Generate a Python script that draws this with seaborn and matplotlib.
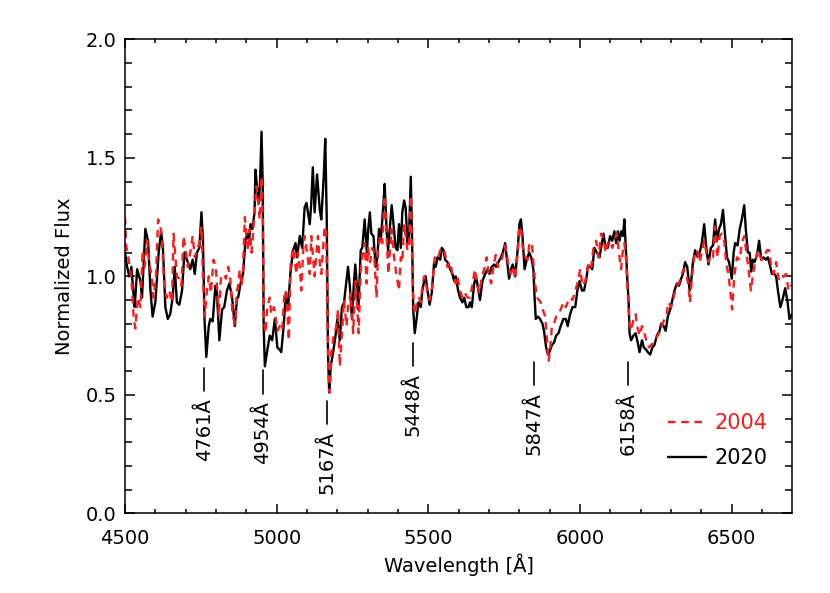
import numpy as np
import matplotlib
matplotlib.use("Agg")
import matplotlib.pyplot as plt
import seaborn as sns

# spectrum 2020 (black, solid)
wl_2020 = [4500, 4507, 4514, 4521, 4529, 4532, 4540, 4551, 4556, 4567, 4576, 4584, 4591, 4600,
           4611, 4619, 4625, 4633, 4641, 4649, 4657, 4664, 4671, 4679, 4688, 4696, 4704, 4715,
           4723, 4730, 4737, 4745, 4752, 4757, 4762, 4768, 4776, 4781, 4789, 4798, 4803, 4811,
           4820, 4827, 4836, 4844, 4853, 4862, 4869, 4873, 4881, 4889, 4897, 4903, 4909, 4914,
           4920, 4927, 4930, 4935, 4941, 4945, 4950, 4954, 4957, 4961, 4968, 4977, 4985, 4994,
           5002, 5010, 5015, 5023, 5030, 5037, 5045, 5054, 5062, 5067, 5076, 5084, 5092, 5098,
           5103, 5109, 5114, 5119, 5125, 5133, 5142, 5147, 5155, 5160, 5165, 5169, 5173, 5178,
           5186, 5194, 5200, 5208, 5215, 5222, 5230, 5235, 5241, 5248, 5254, 5259, 5264, 5269,
           5277, 5282, 5290, 5297, 5302, 5307, 5312, 5319, 5326, 5332, 5337, 5343, 5352, 5356,
           5362, 5367, 5374, 5379, 5385, 5392, 5398, 5403, 5409, 5414, 5420, 5425, 5431, 5436,
           5442, 5446, 5450, 5455, 5462, 5467, 5475, 5480, 5486, 5491, 5497, 5504, 5511, 5519,
           5524, 5530, 5539, 5544, 5550, 5555, 5563, 5572, 5579, 5585, 5590, 5598, 5604, 5612,
           5618, 5625, 5632, 5637, 5643, 5651, 5657, 5665, 5670, 5678, 5687, 5695, 5701, 5709,
           5717, 5723, 5731, 5739, 5745, 5753, 5758, 5766, 5772, 5778, 5786, 5794, 5800, 5805,
           5810, 5817, 5824, 5832, 5839, 5846, 5850, 5854, 5861, 5868, 5876, 5881, 5888, 5894,
           5899, 5907, 5914, 5921, 5929, 5936, 5945, 5953, 5959, 5967, 5975, 5984, 5991, 5998,
           6006, 6013, 6022, 6025, 6033, 6040, 6047, 6055, 6064, 6069, 6077, 6084, 6091, 6099,
           6106, 6113, 6119, 6124, 6130, 6135, 6141, 6146, 6152, 6156, 6160, 6163, 6168, 6176,
           6183, 6190, 6196, 6204, 6210, 6218, 6223, 6231, 6238, 6245, 6253, 6262, 6267, 6275,
           6282, 6289, 6297, 6304, 6311, 6319, 6326, 6333, 6339, 6346, 6353, 6361, 6366, 6372,
           6379, 6388, 6396, 6401, 6409, 6416, 6423, 6431, 6438, 6445, 6451, 6458, 6464, 6471,
           6476, 6484, 6491, 6500, 6506, 6511, 6519, 6526, 6533, 6541, 6546, 6553, 6559, 6564,
           6569, 6575, 6583, 6590, 6597, 6605, 6612, 6619, 6627, 6632, 6640, 6646, 6652, 6660,
           6667, 6676, 6684, 6690, 6698]
flux_2020 = [1.10, 1.04, 1.00, 1.04, 0.91, 0.87, 1.03, 0.98, 0.91, 1.20, 1.15, 0.94, 0.83, 0.89,
             1.10, 1.19, 1.12, 0.87, 0.82, 0.84, 0.91, 1.04, 0.89, 0.88, 0.94, 1.10, 1.07, 1.03,
             1.07, 1.01, 1.10, 1.12, 1.27, 1.15, 0.82, 0.66, 0.79, 0.82, 0.81, 0.96, 0.93, 0.73,
             0.86, 0.87, 0.94, 0.97, 0.91, 0.79, 0.91, 0.91, 0.97, 1.01, 1.15, 1.18, 1.15, 1.22,
             1.20, 1.27, 1.45, 1.38, 1.31, 1.39, 1.61, 1.38, 0.79, 0.62, 0.68, 0.75, 0.73, 0.82,
             0.70, 0.69, 0.68, 0.79, 0.93, 0.86, 1.01, 1.11, 1.14, 1.08, 1.17, 1.12, 1.29, 1.31,
             1.27, 1.22, 1.31, 1.46, 1.27, 1.43, 1.28, 1.24, 1.42, 1.58, 1.24, 0.68, 0.51, 0.62,
             0.68, 0.75, 0.82, 0.73, 0.87, 0.89, 0.98, 1.04, 0.96, 0.82, 0.96, 1.05, 0.96, 0.86,
             1.11, 1.12, 1.24, 1.10, 1.20, 1.27, 1.18, 1.17, 1.04, 1.08, 1.20, 1.15, 1.31, 1.39,
             1.20, 1.11, 1.22, 1.30, 1.22, 1.12, 1.11, 1.22, 1.12, 1.27, 1.32, 1.29, 1.14, 1.17,
             1.42, 1.17, 0.86, 0.76, 0.83, 0.89, 0.87, 0.94, 0.98, 1.00, 0.94, 0.88, 0.93, 1.06,
             1.04, 1.08, 1.07, 1.12, 1.11, 1.07, 1.06, 1.03, 1.01, 0.98, 1.00, 0.94, 0.91, 0.89,
             0.91, 0.87, 0.87, 0.89, 0.87, 0.97, 1.00, 0.94, 0.90, 0.98, 1.01, 1.03, 1.01, 1.04,
             1.05, 1.04, 1.06, 1.08, 1.10, 1.14, 1.08, 0.99, 1.03, 1.05, 1.00, 1.11, 1.22, 1.24,
             1.17, 1.03, 1.07, 1.10, 1.08, 1.03, 0.91, 0.82, 0.83, 0.82, 0.80, 0.77, 0.70, 0.67,
             0.68, 0.71, 0.72, 0.75, 0.76, 0.79, 0.82, 0.82, 0.79, 0.84, 0.87, 0.87, 0.94, 0.98,
             0.94, 0.94, 1.00, 1.04, 1.04, 1.03, 1.12, 1.10, 1.08, 1.12, 1.18, 1.12, 1.12, 1.17,
             1.15, 1.19, 1.14, 1.19, 1.15, 1.19, 1.17, 1.24, 1.08, 0.98, 0.89, 0.76, 0.73, 0.75,
             0.76, 0.72, 0.68, 0.73, 0.70, 0.69, 0.68, 0.67, 0.70, 0.71, 0.75, 0.77, 0.80, 0.79,
             0.77, 0.83, 0.86, 0.90, 0.94, 0.97, 0.96, 0.99, 1.01, 1.06, 1.04, 0.94, 0.98, 1.06,
             1.11, 1.08, 1.11, 1.14, 1.22, 1.12, 1.05, 1.12, 1.13, 1.24, 1.15, 1.20, 1.22, 1.28,
             1.20, 1.08, 1.06, 0.99, 1.10, 1.14, 1.13, 1.20, 1.24, 1.30, 1.20, 1.10, 1.10, 1.02,
             1.07, 1.06, 1.09, 1.15, 1.07, 1.08, 1.07, 1.08, 1.04, 1.01, 1.01, 1.00, 0.94, 0.87,
             0.90, 0.95, 0.89, 0.82, 0.84]

# spectrum 2004 (red, dashed)
wl_2004 = [4500, 4504, 4512, 4521, 4529, 4534, 4542, 4551, 4558, 4565, 4573, 4580, 4589, 4594,
           4602, 4609, 4616, 4622, 4630, 4638, 4646, 4655, 4660, 4666, 4671, 4679, 4686, 4693,
           4699, 4707, 4715, 4723, 4730, 4737, 4745, 4752, 4757, 4763, 4770, 4776, 4783, 4792,
           4800, 4809, 4816, 4825, 4833, 4840, 4847, 4855, 4864, 4869, 4873, 4878, 4884, 4889,
           4895, 4900, 4906, 4911, 4917, 4922, 4928, 4933, 4939, 4944, 4950, 4954, 4957, 4963,
           4969, 4977, 4982, 4991, 4997, 5002, 5010, 5018, 5026, 5032, 5040, 5046, 5054, 5059,
           5065, 5070, 5076, 5081, 5087, 5092, 5098, 5103, 5109, 5114, 5120, 5125, 5131, 5136,
           5142, 5147, 5153, 5158, 5163, 5167, 5172, 5175, 5180, 5188, 5197, 5202, 5208, 5215,
           5222, 5230, 5235, 5244, 5252, 5260, 5266, 5270, 5277, 5282, 5290, 5296, 5301, 5308,
           5315, 5321, 5329, 5334, 5341, 5348, 5356, 5362, 5368, 5374, 5379, 5385, 5392, 5398,
           5403, 5409, 5414, 5420, 5425, 5431, 5436, 5442, 5446, 5450, 5455, 5462, 5469, 5475,
           5480, 5486, 5491, 5497, 5504, 5513, 5521, 5530, 5539, 5546, 5554, 5563, 5572, 5579,
           5585, 5590, 5596, 5604, 5612, 5620, 5629, 5637, 5646, 5653, 5660, 5668, 5676, 5684,
           5692, 5700, 5707, 5714, 5722, 5729, 5736, 5744, 5751, 5758, 5764, 5771, 5778, 5786,
           5794, 5800, 5806, 5811, 5819, 5827, 5833, 5841, 5846, 5852, 5857, 5865, 5870, 5877,
           5885, 5890, 5896, 5901, 5907, 5914, 5921, 5929, 5936, 5945, 5953, 5959, 5967, 5975,
           5984, 5991, 6000, 6008, 6017, 6029, 6037, 6044, 6053, 6061, 6069, 6077, 6084, 6091,
           6099, 6106, 6113, 6121, 6128, 6135, 6141, 6146, 6152, 6156, 6160, 6163, 6168, 6176,
           6183, 6188, 6196, 6204, 6210, 6218, 6227, 6234, 6242, 6251, 6260, 6267, 6275, 6284,
           6291, 6300, 6308, 6317, 6326, 6333, 6341, 6350, 6357, 6362, 6369, 6377, 6385, 6394,
           6404, 6409, 6416, 6423, 6431, 6438, 6445, 6453, 6460, 6467, 6475, 6482, 6489, 6497,
           6501, 6508, 6517, 6526, 6533, 6541, 6548, 6555, 6563, 6570, 6577, 6585, 6591, 6599,
           6607, 6616, 6623, 6630, 6638, 6646, 6654, 6662, 6671, 6679, 6687, 6695, 6700]
flux_2004 = [1.25, 1.13, 1.07, 0.99, 0.82, 0.78, 0.91, 0.87, 1.11, 1.04, 1.15, 1.06, 0.99, 0.91,
             1.00, 1.24, 1.22, 1.15, 0.94, 0.91, 0.94, 0.89, 1.18, 1.08, 1.00, 0.99, 0.96, 1.17,
             1.12, 1.04, 1.10, 1.17, 1.08, 1.11, 1.14, 1.21, 0.99, 0.83, 0.94, 1.00, 0.93, 1.07,
             1.03, 0.83, 0.99, 1.01, 0.99, 1.04, 0.99, 0.83, 0.80, 0.94, 0.96, 1.03, 0.96, 1.03,
             1.25, 1.17, 1.11, 1.20, 1.10, 1.18, 1.29, 1.38, 1.32, 1.24, 1.42, 1.24, 0.82, 0.76,
             0.87, 0.91, 0.84, 0.87, 0.82, 0.77, 0.79, 0.77, 0.94, 0.93, 0.73, 1.06, 1.12, 1.07,
             1.01, 1.10, 1.04, 0.94, 1.10, 1.17, 1.12, 1.07, 1.01, 1.17, 1.08, 1.00, 1.10, 1.17,
             1.06, 1.01, 1.12, 1.21, 1.20, 0.82, 0.56, 0.51, 0.68, 0.75, 0.79, 0.86, 0.62, 0.76,
             0.90, 0.79, 0.87, 0.93, 0.76, 0.98, 0.86, 0.76, 1.03, 1.08, 1.14, 0.97, 1.12, 1.06,
             1.12, 1.10, 0.91, 1.11, 1.17, 1.14, 1.34, 1.17, 1.01, 1.12, 1.20, 1.10, 1.03, 0.98,
             0.94, 1.08, 1.06, 1.22, 1.17, 1.11, 1.12, 1.34, 1.10, 0.91, 0.84, 0.89, 0.91, 0.89,
             0.96, 1.00, 0.98, 0.93, 0.90, 0.96, 1.08, 1.07, 1.11, 1.12, 1.10, 1.04, 1.06, 1.01,
             1.00, 0.97, 1.00, 0.94, 0.91, 0.93, 0.91, 0.91, 0.97, 1.03, 0.97, 0.93, 1.00, 1.03,
             1.08, 1.00, 0.97, 1.04, 1.09, 1.04, 1.06, 1.08, 1.13, 1.10, 1.04, 1.01, 1.04, 0.99,
             1.10, 1.21, 1.19, 1.12, 1.08, 1.07, 1.14, 1.14, 1.06, 0.97, 0.91, 0.90, 0.89, 0.86,
             0.83, 0.75, 0.64, 0.69, 0.79, 0.80, 0.83, 0.84, 0.86, 0.89, 0.87, 0.89, 0.91, 0.90,
             0.94, 0.97, 1.03, 0.96, 0.98, 1.06, 1.04, 1.12, 1.15, 1.08, 1.18, 1.16, 1.10, 1.14,
             1.15, 1.12, 1.15, 1.18, 1.10, 1.03, 1.11, 1.14, 1.06, 0.96, 0.86, 0.80, 0.77, 0.82,
             0.84, 0.79, 0.75, 0.79, 0.77, 0.73, 0.70, 0.71, 0.72, 0.74, 0.76, 0.79, 0.81, 0.83,
             0.89, 0.87, 0.91, 0.96, 0.97, 1.00, 1.03, 1.01, 0.96, 0.89, 1.00, 1.09, 1.11, 1.06,
             1.12, 1.15, 1.10, 1.06, 1.09, 1.08, 1.21, 1.08, 1.17, 1.18, 1.15, 1.05, 1.01, 0.91,
             0.86, 1.00, 1.08, 1.07, 1.14, 1.17, 1.10, 1.03, 0.94, 1.01, 1.06, 1.11, 1.09, 1.07,
             1.08, 1.11, 1.11, 1.04, 1.01, 1.06, 0.99, 0.98, 1.00, 1.01, 0.94, 0.96, 0.96]

# marked absorption features
line_wl = [4761, 4954, 5167, 5448, 5847, 6158]
line_labels = ["4761Å", "4954Å", "5167Å", "5448Å", "5847Å", "6158Å"]
mark_top = [0.615, 0.605, 0.475, 0.72, 0.64, 0.64]

sns.set_theme(style="ticks")
plt.rcParams["font.family"] = ["DejaVu Sans"]
plt.rcParams["font.size"] = 14
plt.rcParams["text.color"] = "black"
plt.rcParams["axes.labelcolor"] = "black"

red = "#ff1a1a"

fig = plt.figure(figsize=(8.3, 5.93), dpi=100)
ax = fig.add_axes([0.1506, 0.1344, 0.8042, 0.7993])

sns.lineplot(x=wl_2020, y=flux_2020, ax=ax, color="black", linewidth=1.7,
             estimator=None, sort=False, legend=False)
sns.lineplot(x=wl_2004, y=flux_2004, ax=ax, color=red, linewidth=1.7,
             estimator=None, sort=False, legend=False, linestyle=(0, (3.2, 2.4)))
black_line, red_line = ax.lines[0], ax.lines[1]

for wl, lab, top in zip(line_wl, line_labels, mark_top):
    ax.plot([wl, wl], [top, top - 0.1], color="black", linewidth=1.2)
    ax.text(wl, top - 0.13, lab, rotation=90, ha="center", va="top",
            fontsize=14, color="black")

ax.set_xlim(4500, 6700)
ax.set_ylim(0, 2.0)
ax.set_xticks([4500, 5000, 5500, 6000, 6500])
ax.set_xticks(np.arange(4600, 6700, 100), minor=True)
ax.set_yticks([0.0, 0.5, 1.0, 1.5, 2.0])
ax.set_yticklabels(["0.0", "0.5", "1.0", "1.5", "2.0"])
ax.set_yticks(np.arange(0.1, 2.0, 0.1), minor=True)

ax.tick_params(axis="both", which="both", direction="in", top=True, right=True,
               colors="black", width=1.1, labelsize=14)
ax.tick_params(axis="x", which="major", length=6.5, pad=11)
ax.tick_params(axis="x", which="minor", length=3.2)
ax.tick_params(axis="y", which="major", length=7.2, pad=6)
ax.tick_params(axis="y", which="minor", length=5)
for sp in ax.spines.values():
    sp.set_visible(True)
    sp.set_linewidth(1.1)
    sp.set_color("black")

ax.set_xlabel("Wavelength [Å]", fontsize=14, labelpad=4, color="black")
ax.set_ylabel("Normalized Flux", fontsize=14, labelpad=8, color="black")

leg = ax.legend(handles=[red_line, black_line], labels=["2004", "2020"],
                loc="lower right", bbox_to_anchor=(0.99, 0.055), frameon=False,
                handlelength=1.8, handletextpad=0.4, labelspacing=0.75, fontsize=15)
leg.get_texts()[0].set_color(red)

fig.savefig("out.png", dpi=100)
